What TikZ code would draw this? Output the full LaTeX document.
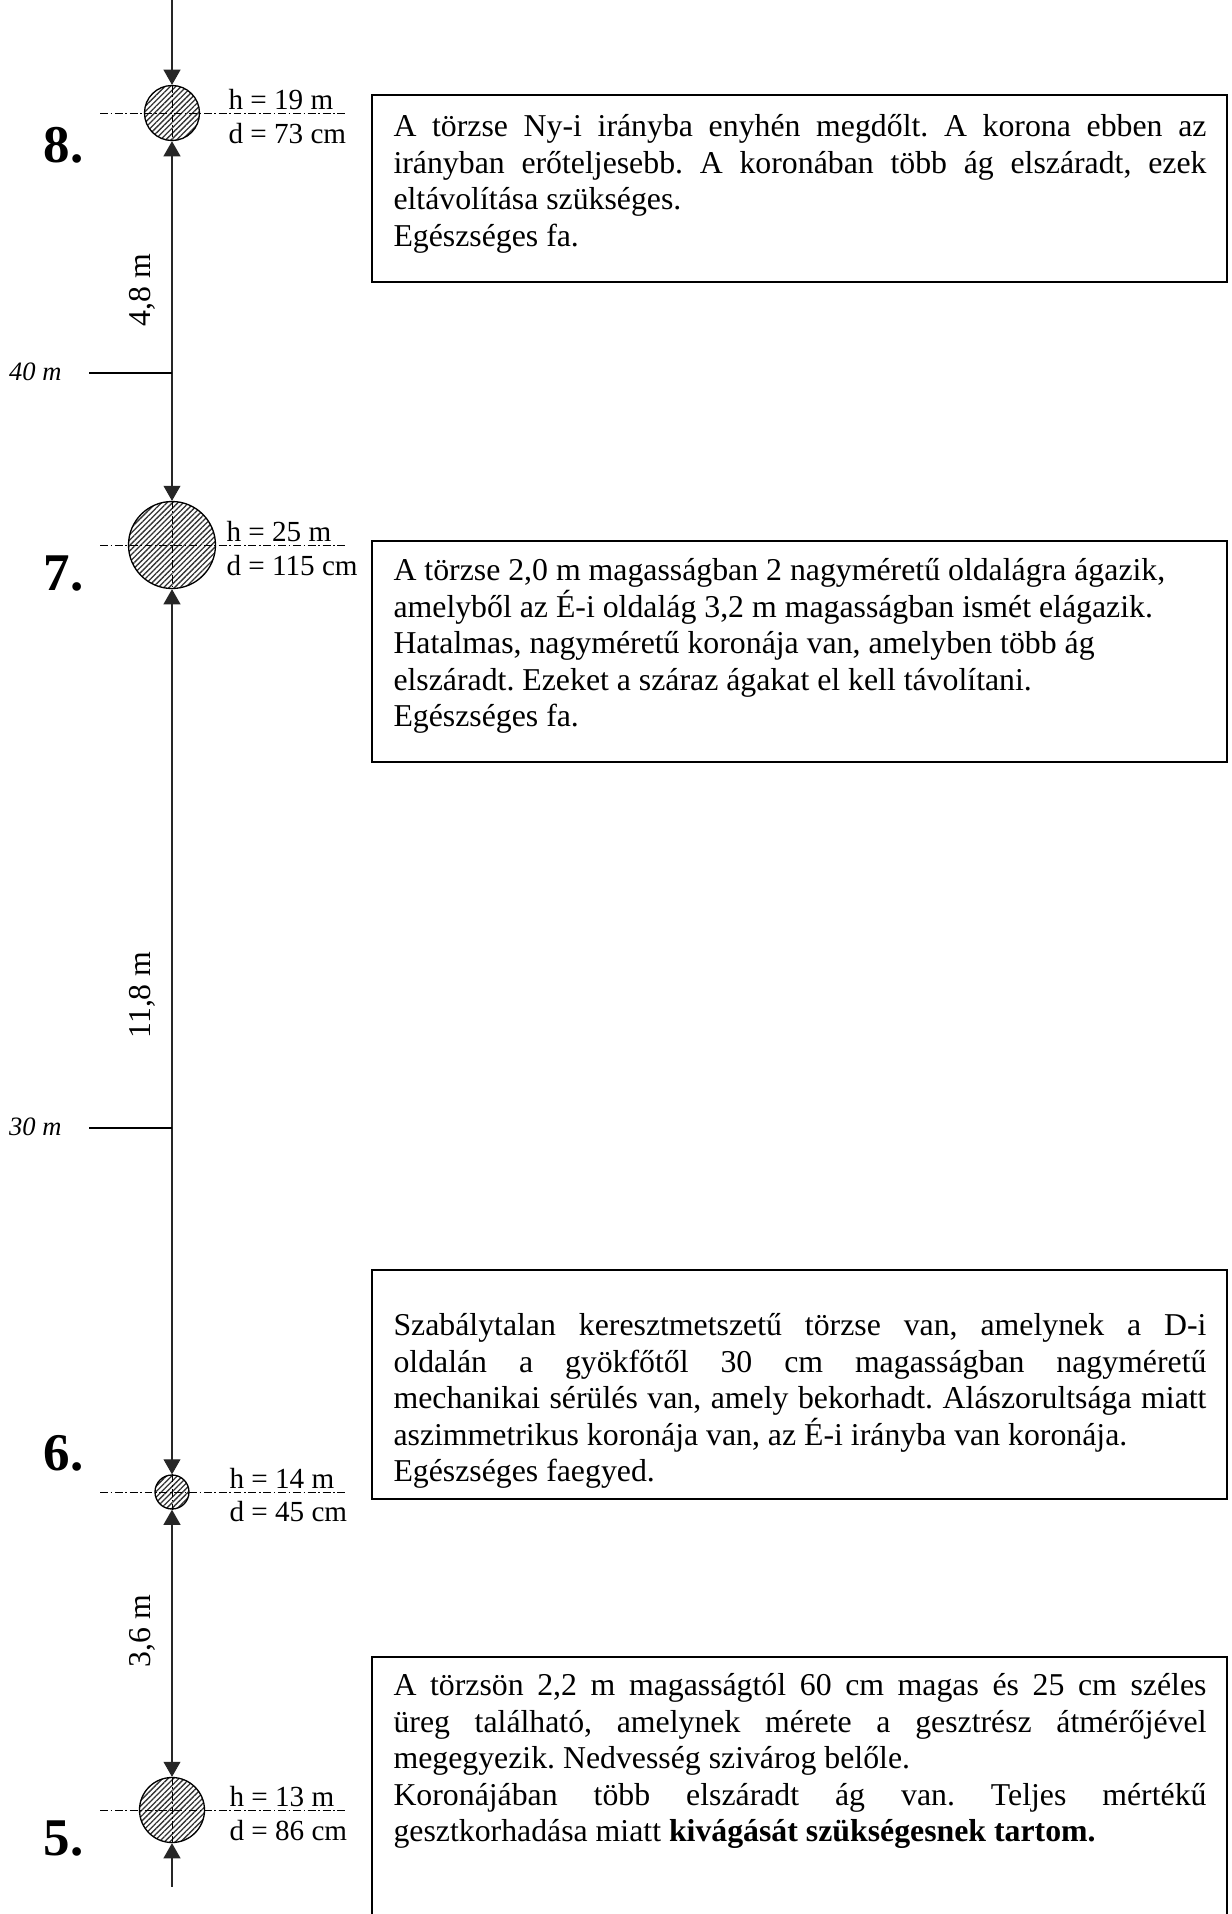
\documentclass[tikz,border=0pt]{standalone}
\usepackage{fontspec}
\setmainfont{Liberation Serif}
\usetikzlibrary{arrows.meta,patterns.meta,fit}
\setlength\parindent{0pt}
\setlength\normallineskiplimit{-20pt}
\setlength\lineskiplimit{-20pt}
\frenchspacing

\tikzset{
  >={Triangle[width=6.4pt,length=5.7pt]},
  stem/.style={line width=0.4pt, black!85},
  trunk/.style={circle, draw, line width=0.5pt, inner sep=0pt,
    pattern={Lines[angle=45,distance=1.45pt,line width=0.5pt]}, pattern color=black!80},
  centerline/.style={line width=0.35pt, dash pattern=on 3pt off 1pt on 0.6pt off 1pt},
  tick/.style={line width=0.8pt},
  descbox/.style={draw, line width=0.5pt, inner sep=0pt},
  desctext/.style={anchor=north west, inner sep=0pt, text width=306.8pt, align=justify,
    font=\fontsize{12}{13.8}\selectfont},
  hlabel/.style={anchor=base west, inner sep=0pt, font=\fontsize{11}{13}\selectfont},
  treeno/.style={anchor=base west, inner sep=0pt, font=\fontsize{20}{24}\selectfont\bfseries},
  heightmark/.style={anchor=base east, inner sep=0pt, font=\fontsize{10}{12}\selectfont\itshape},
  dimlabel/.style={anchor=base, rotate=90, inner sep=0pt, font=\fontsize{12}{13.8}\selectfont}
}

\begin{document}
\begin{tikzpicture}[x=0.3774pt, y=-0.3774pt]
\useasboundingbox (0,0) rectangle (1232,1914);

% Trunk sections
\node[trunk, minimum size=20.76pt] (c8) at (172,113) {};
\node[trunk, minimum size=32.83pt] (c7) at (172,545) {};
\node[trunk, minimum size=12.83pt] (c6) at (172,1492) {};
\node[trunk, minimum size=24.53pt] (c5) at (172,1810) {};

% Center lines
\draw[centerline] (100,113) -- (348,113);
\draw[centerline] (100,545) -- (348,545);
\draw[centerline] (100,1492) -- (348,1492);
\draw[centerline] (100,1810) -- (348,1810);
\draw[centerline] (c8.north) -- (c8.south);
\draw[centerline] (c7.north) -- (c7.south);
\draw[centerline] (c6.north) -- (c6.south);
\draw[centerline] (c5.north) -- (c5.south);

% Distances
\coordinate (top) at (172,0);
\coordinate (bottom) at (172,1887);
\draw[stem, ->] (top) -- (c8.north);
\draw[stem, <->] (c8.south) -- (c7.north);
\draw[stem, <->] (c7.south) -- (c6.north);
\draw[stem, <->] (c6.south) -- (c5.north);
\draw[stem, <-] (c5.south) -- (bottom);

\node[dimlabel] (l8) at (150,290) {4,8 m};
\node[dimlabel] (l7) at (150,995) {11,8 m};
\node[dimlabel] (l6) at (150,1631) {3,6 m};

% Height marks
\draw[tick] (89,373) -- (172,373);
\draw[tick] (89,1128) -- (172,1128);
\node[heightmark] (m40) at (62,380) {40 m};
\node[heightmark] (m30) at (62,1135) {30 m};

% Tree numbers
\node[treeno] (n8) at (43,162) {8.};
\node[treeno] (n7) at (43,590) {7.};
\node[treeno] (n6) at (43,1470) {6.};
\node[treeno] (n5) at (43,1855) {5.};

% Height and diameter
\node[hlabel] (h8) at (228,109) {h = 19 m};
\node[hlabel] (d8) at (228,143) {d = 73 cm};
\node[hlabel] (h7) at (226,541) {h = 25 m};
\node[hlabel] (d7) at (226,575) {d = 115 cm};
\node[hlabel] (h6) at (229,1488) {h = 14 m};
\node[hlabel] (d6) at (229,1521) {d = 45 cm};
\node[hlabel] (h5) at (229,1806) {h = 13 m};
\node[hlabel] (d5) at (229,1840) {d = 86 cm};

% Descriptions
\node[descbox, fit={(372,95) (1227,282)}] (box8) {};
\node[descbox, fit={(372,541) (1227,762)}] (box7) {};
\node[descbox, fit={(372,1270) (1227,1499)}] (box6) {};
\node[descbox, fit={(372,1657) (1227,1940)}] (box5) {};

\node[desctext] (t8) at (393,110.4) {\strut A törzse Ny-i irányba enyhén megdőlt. A korona ebben az\linebreak
  irányban erőteljesebb. A koronában több ág elszáradt, ezek\linebreak
  eltávolítása szükséges.\par Egészséges fa.};
\node[desctext] (t7) at (393,554.4) {\strut A törzse 2,0 m magasságban 2 nagyméretű oldalágra ágazik,\par
  amelyből az É-i oldalág 3,2 m magasságban ismét elágazik.\par
  Hatalmas, nagyméretű koronája van, amelyben több ág\par
  elszáradt. Ezeket a száraz ágakat el kell távolítani.\par
  Egészséges fa.};
\node[desctext] (t6) at (393,1309.4) {\strut Szabálytalan keresztmetszetű törzse van, amelynek a D-i\linebreak
  oldalán a gyökfőtől 30 cm magasságban nagyméretű\linebreak
  mechanikai sérülés van, amely bekorhadt. Alászorultsága miatt\linebreak
  aszimmetrikus koronája van, az É-i irányba van koronája.\par Egészséges faegyed.};
\node[desctext] (t5) at (393,1669.4) {\strut A törzsön 2,2 m magasságtól 60 cm magas és 25 cm széles\linebreak
  üreg található, amelynek mérete a gesztrész átmérőjével\linebreak
  megegyezik. Nedvesség szivárog belőle.\par Koronájában több elszáradt ág van. Teljes mértékű\linebreak
  gesztkorhadása miatt \textbf{kivágását szükségesnek tartom.}};
\end{tikzpicture}
\end{document}
